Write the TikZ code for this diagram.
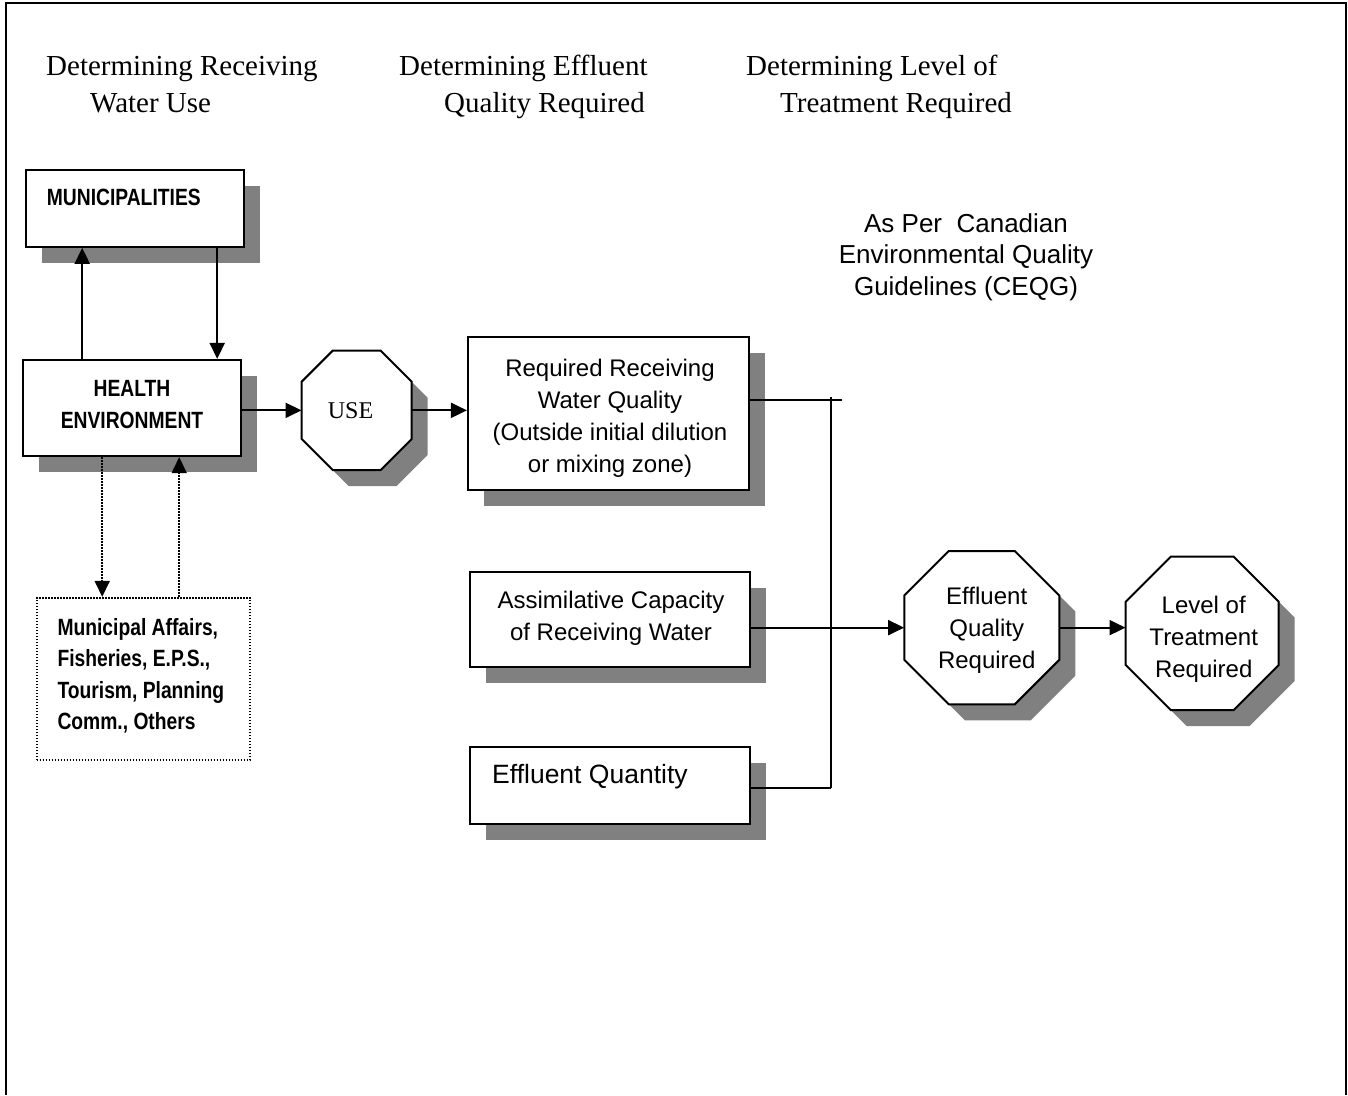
\documentclass[tikz,border=0pt]{standalone}
\usepackage{fontspec}
\setmainfont{Liberation Serif}
\newfontfamily\arialf{Liberation Sans}
\newfontfamily\narrowf[FakeStretch=0.82]{Liberation Sans}
\usetikzlibrary{arrows.meta,calc}
\definecolor{shadowgray}{HTML}{808080}
\newcommand\shbox[5]{%
  \fill[shadowgray] ({#2+16},{#3+16}) rectangle ({#4+16},{#5+16});
  \pgfmathsetmacro\bxw{#4-#2}%
  \pgfmathsetmacro\bxh{#5-#3}%
  \node[box, minimum width=\bxw pt, minimum height=\bxh pt] (#1) at ({(#2+#4)/2},{(#3+#5)/2}) {};
}
\newcommand\octo[6]{%
  \pgfmathsetmacro\oxa{#2-#4/2}\pgfmathsetmacro\oxb{#2+#4/2}%
  \pgfmathsetmacro\oya{#3-#5/2}\pgfmathsetmacro\oyb{#3+#5/2}%
  \fill[shadowgray, shift={(16,16)}] ({\oxa+#6},{\oya}) -- ({\oxb-#6},{\oya}) -- ({\oxb},{\oya+#6}) -- ({\oxb},{\oyb-#6}) -- ({\oxb-#6},{\oyb}) -- ({\oxa+#6},{\oyb}) -- ({\oxa},{\oyb-#6}) -- ({\oxa},{\oya+#6}) -- cycle;
  \path[octline] ({\oxa+#6},{\oya}) -- ({\oxb-#6},{\oya}) -- ({\oxb},{\oya+#6}) -- ({\oxb},{\oyb-#6}) -- ({\oxb-#6},{\oyb}) -- ({\oxa+#6},{\oyb}) -- ({\oxa},{\oyb-#6}) -- ({\oxa},{\oya+#6}) -- cycle;
  \node[inner sep=0pt, minimum width=#4pt, minimum height=#5pt] (#1) at (#2,#3) {};
}
\begin{document}
\begin{tikzpicture}[x=1pt,y=-1pt,
  box/.style={draw, line width=2.2pt, fill=white, inner sep=0pt},
  octline/.style={draw, line width=2pt, fill=white},
  arr/.style={line width=2pt, -{Triangle[length=16pt,width=15pt]}},
  dotarr/.style={line width=1.6pt, dash pattern=on 1.6pt off 1.4pt, -{Triangle[length=16pt,width=15pt]}},
  wire/.style={line width=2pt},
  atxt/.style={inner sep=0pt, font=\arialf\fontsize{24}{32}\selectfont, align=center},
  ntxt/.style={inner sep=0pt, font=\narrowf\bfseries\fontsize{23.5}{32}\selectfont},
  htxt/.style={inner sep=0pt, anchor=base west, font=\fontsize{29}{37}\selectfont}
]
\useasboundingbox (0,0) rectangle (1348,1095);
\fill[white] (0,0) rectangle (1348,1095);
% frame
\draw[line width=2.6pt] (6,1095) -- (6,3) -- (1346,3) -- (1346,1095);

% headers
\node[htxt] (h1a) at (46,75) {Determining Receiving};
\node[htxt] (h1b) at (90,112) {Water Use};
\node[htxt] (h2a) at (399,75) {Determining Effluent};
\node[htxt] (h2b) at (444,112) {Quality Required};
\node[htxt] (h3a) at (746,75) {Determining Level of};
\node[htxt] (h3b) at (780,112) {Treatment Required};

% boxes
\shbox{muni}{25.7}{170}{244.3}{246.7}
\shbox{he}{22.7}{360}{240.7}{456}
\shbox{rrwq}{468}{337}{749}{490}
\shbox{acrw}{470}{572}{750}{667}
\shbox{eq}{470}{747}{750}{824}
\node[draw, line width=1.6pt, dash pattern=on 1.6pt off 1.4pt, minimum width=213.3pt, minimum height=162.3pt, inner sep=0pt] (others) at (143.35,678.85) {};

% octagons
\octo{use}{356.7}{410.35}{110}{119.3}{31}
\octo{eqr}{981.8}{627.65}{155}{153.3}{44.5}
\octo{ltr}{1202.2}{633.35}{153}{153.3}{45}

% texts (base anchor = last line's baseline)
\node[ntxt, anchor=base west] (munit) at (46.7,205) {MUNICIPALITIES};
\node[ntxt, anchor=base, align=center] (het) at (132,428) {HEALTH\\ENVIRONMENT};
\node[ntxt, anchor=base west, align=left, font=\narrowf\bfseries\fontsize{23.5}{31.5}\selectfont] (otht) at (57.3,729.5) {Municipal Affairs,\\Fisheries, E.P.S.,\\Tourism, Planning\\Comm., Others};
\node[inner sep=0pt, anchor=base, font=\fontsize{24}{30}\selectfont] (uset) at (350.5,418.3) {USE};
\node[atxt, anchor=base] (rrwqt) at (610,472) {Required Receiving\\Water Quality\\(Outside initial dilution\\or mixing zone)};
\node[atxt, anchor=base] (acrwt) at (611,640) {Assimilative Capacity\\of Receiving Water};
\node[atxt, anchor=base west, font=\arialf\fontsize{26.5}{32}\selectfont] (eqt) at (492,783) {Effluent Quantity};
\node[atxt, anchor=base] (eqrt) at (986.7,668) {Effluent\\Quality\\Required};
\node[atxt, anchor=base] (ltrt) at (1203.7,677.3) {Level of\\Treatment\\Required};
\node[atxt, anchor=base, font=\arialf\fontsize{26}{31.5}\selectfont] (ceqg) at (966,295) {As Per\ \ Canadian\\Environmental Quality\\Guidelines (CEQG)};

% connectors
\draw[arr] ([xshift=60.6pt]he.north west) -- ([xshift=60.6pt]he.north west |- muni.south);
\draw[arr] ([xshift=192.6pt]muni.south west) -- ([xshift=192.6pt]muni.south west |- he.north);
\draw[arr] (he.east |- use.west) -- (use.west);
\draw[arr] (use.east) -- (use.east -| rrwq.west);
\draw[dotarr] ([xshift=80.6pt]he.south west) -- ([xshift=80.6pt]he.south west |- others.north);
\draw[dotarr] ([xshift=143.3pt]others.north west) -- ([xshift=143.3pt]others.north west |- he.south);
\coordinate (jtop) at (831,397);
\coordinate (jbot) at (831,788);
\coordinate (tickend) at (842,399.5);
\draw[wire] (rrwq.east |- tickend) -- (tickend);
\draw[wire] (jtop) -- (jbot);
\draw[wire] (eq.east |- jbot) -- (jbot);
\draw[arr] (acrw.east |- eqr.west) -- (eqr.west);
\draw[arr] (eqr.east) -- (eqr.east -| ltr.west);
\end{tikzpicture}
\end{document}
